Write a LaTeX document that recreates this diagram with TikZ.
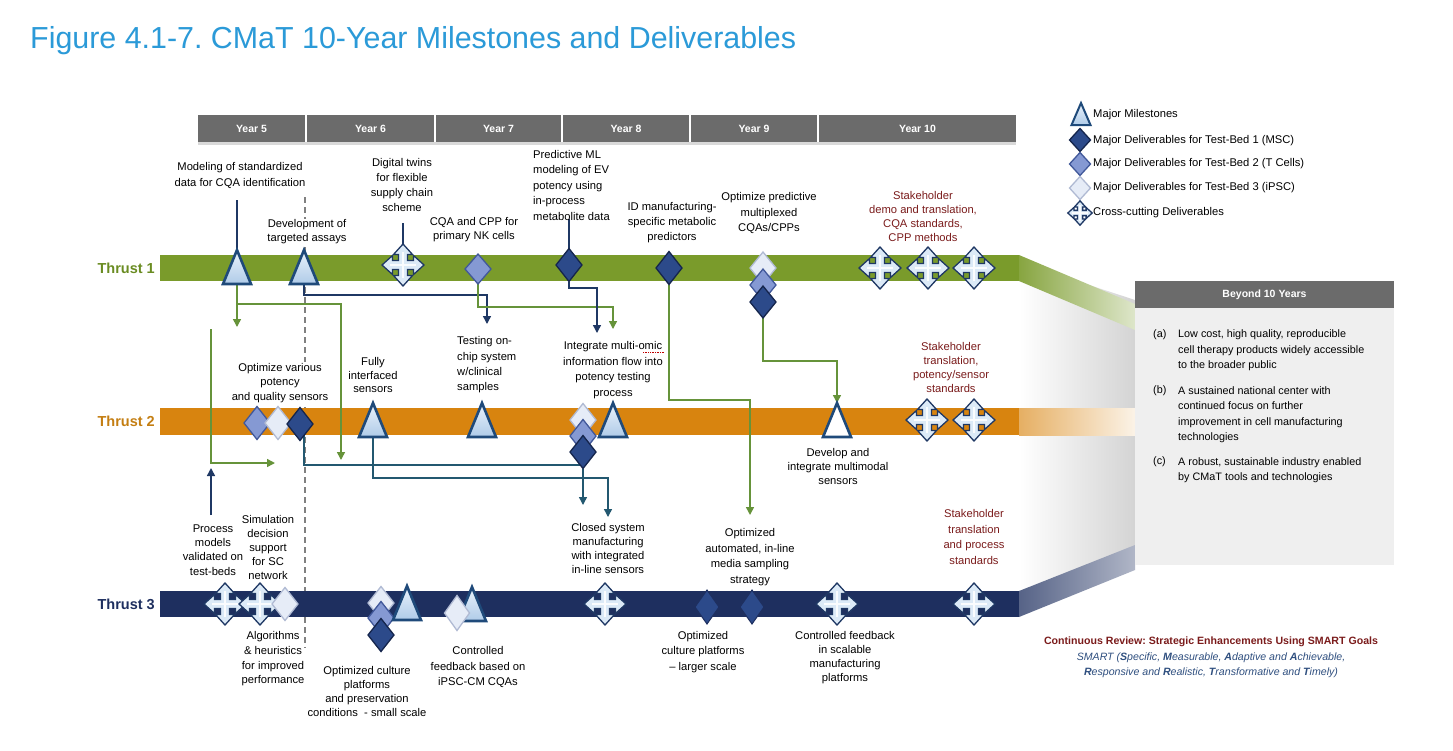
\documentclass[tikz,border=0pt]{standalone}
\usepackage{fontspec}
\setmainfont{Liberation Sans}
\usetikzlibrary{arrows.meta,calc}
\frenchspacing
\pgfdeclarelayer{bg}
\pgfdeclarelayer{conn}
\pgfsetlayers{bg,conn,main}
\definecolor{titleblue}{HTML}{2B9AD8}
\definecolor{hdrgray}{HTML}{6B6B6B}
\definecolor{boxgray}{HTML}{EFEFEF}
\definecolor{tgreen}{HTML}{7A9B2B}
\definecolor{torange}{HTML}{D8840F}
\definecolor{tnavy}{HTML}{1E2F5F}
\definecolor{labgreen}{HTML}{6A8C22}
\definecolor{laborange}{HTML}{C47E12}
\definecolor{labnavy}{HTML}{1E2F5F}
\definecolor{dred}{HTML}{7B1C1C}
\definecolor{msD}{HTML}{1F4A7A}
\definecolor{msTop}{HTML}{EAF2FB}
\definecolor{msBot}{HTML}{AFCBE8}
\definecolor{dOneF}{HTML}{2C4A8A}
\definecolor{dOneD}{HTML}{15254C}
\definecolor{dTwoF}{HTML}{8599D3}
\definecolor{dTwoD}{HTML}{41589A}
\definecolor{dThrF}{HTML}{E6ECF7}
\definecolor{dThrD}{HTML}{B0BAD3}
\definecolor{crossF}{HTML}{DCEAF7}
\definecolor{crossD}{HTML}{1F3864}
\definecolor{cnavy}{HTML}{1F3864}
\definecolor{cteal}{HTML}{235870}
\definecolor{cgreen}{HTML}{66933A}
\definecolor{smartblue}{HTML}{2F4F7F}

\newcommand\milestone[4][msshade]{%
  \node[anch, minimum width=28pt, minimum height=34pt] (#2) at (#3,#4) {};
  \draw[msline, #1] (#2.north) -- (#2.south east) -- (#2.south west) -- cycle;}
\newcommand\deliv[5][]{%
  \node[anch, minimum width=26pt, minimum height=33pt, #1] (#3) at (#4,#5) {};
  \draw[#2] (#3.north) -- (#3.east) -- (#3.south) -- (#3.west) -- cycle;}
\newcommand\xcross[4][1]{%
  \node[anch, minimum size=42pt] (#2) at (#3,#4) {};
  \draw[xstyle, shift={(#2.center)}, scale=#1] (21,0) -- (10.5,9.5) -- (10.5,4.5) -- (4.5,4.5) -- (4.5,10.5) -- (9.5,10.5) -- (0,21) -- (-9.5,10.5) -- (-4.5,10.5) -- (-4.5,4.5) -- (-10.5,4.5) -- (-10.5,9.5) -- (-21,0) -- (-10.5,-9.5) -- (-10.5,-4.5) -- (-4.5,-4.5) -- (-4.5,-10.5) -- (-9.5,-10.5) -- (0,-21) -- (9.5,-10.5) -- (4.5,-10.5) -- (4.5,-4.5) -- (10.5,-4.5) -- (10.5,-9.5) -- cycle;
  \draw[white!85!crossF, line width=1.6pt, shift={(#2.center)}, scale=#1] (-13,0) -- (13,0) (0,-13) -- (0,13);}

\begin{document}
\begin{tikzpicture}[x=1pt,y=-1pt,
  anch/.style={rectangle, inner sep=0pt, outer sep=0pt, draw=none, fill=none},
  msline/.style={draw=msD, line width=2.6pt, line join=miter},
  msshade/.style={top color=msTop, bottom color=msBot},
  dOne/.style={fill=dOneF, draw=dOneD, line width=1.3pt, line join=miter},
  dOneB/.style={fill=dOneF, draw=tnavy, line width=1pt, line join=miter},
  dTwo/.style={fill=dTwoF, draw=dTwoD, line width=1.3pt, line join=miter},
  dThr/.style={fill=dThrF, draw=dThrD, line width=1.3pt, line join=miter},
  xstyle/.style={fill=crossF, draw=crossD, line width=1.3pt, line join=miter},
  lbl/.style={align=center, inner sep=0pt, font=\fontsize{11.2}{15}\selectfont},
  ld/.style={font=\fontsize{11.2}{#1}\selectfont},
  rlbl/.style={lbl, text=dred},
  yearcell/.style={fill=hdrgray, text=white, inner sep=0pt, minimum height=27pt, font=\bfseries\fontsize{10.5}{12}\selectfont},
  thr/.style={anchor=east, inner sep=0pt, font=\bfseries\fontsize{14.5}{16}\selectfont},
  gline/.style={draw=cgreen, line width=1.5pt},
  nline/.style={draw=cnavy, line width=1.5pt},
  tline/.style={draw=cteal, line width=1.5pt},
  arr/.style={-{Triangle[width=8pt,length=8pt]}}
]
\useasboundingbox (0,0) rectangle (1453,750);

\begin{pgfonlayer}{bg}
\fill[white] (0,0) rectangle (1453,750);
% funnel to the Beyond box
\shade[left color=white, right color=black!17] (1019,262) -- (1135,300) -- (1135,565) -- (1019,600) -- cycle;
\shade[left color=tgreen!90, right color=tgreen!25] (1019,255) -- (1135,304) -- (1135,330) -- (1019,281) -- cycle;
\shade[left color=torange!65, right color=torange!10] (1019,408) rectangle (1135,435);
\shade[left color=tnavy!75, right color=tnavy!35] (1019,591) -- (1135,545) -- (1135,570) -- (1019,617) -- cycle;
% header shadow
\fill[black!15] (198,142) rectangle (1016,145);
% dashed divider
\coordinate (dashTop) at (305,197);
\coordinate (dashBot) at (305,648);
\draw[black!50, line width=1.4pt, dash pattern=on 6pt off 4pt] (dashTop) -- (dashBot);
% thrust bars
\fill[tgreen] (160,255) rectangle (1019,281);
\fill[torange] (160,408) rectangle (1019,435);
\fill[tnavy] (160,591) rectangle (1019,617);
\end{pgfonlayer}

% title
\node[anchor=base west, inner sep=0pt, text=titleblue, font=\fontsize{30.4}{32}\selectfont] (title) at (30,48) {Figure 4.1-7. CMaT 10-Year Milestones and Deliverables};

% year header
\node[yearcell, minimum width=107pt] (y5) at (251.5,128.5) {Year 5};
\node[yearcell, minimum width=127pt] (y6) at (370.5,128.5) {Year 6};
\node[yearcell, minimum width=125pt] (y7) at (498.5,128.5) {Year 7};
\node[yearcell, minimum width=126pt] (y8) at (626,128.5) {Year 8};
\node[yearcell, minimum width=126pt] (y9) at (754,128.5) {Year 9};
\node[yearcell, minimum width=197pt] (y10) at (917.5,128.5) {Year 10};

% thrust labels
\node[thr, text=labgreen] (th1) at (155,268) {Thrust 1};
\node[thr, text=laborange] (th2) at (155,421) {Thrust 2};
\node[thr, text=labnavy] (th3) at (155,604) {Thrust 3};

% ---------- Thrust 1 shapes
\milestone{t1a}{237}{267}
\milestone{t1b}{304}{267}
\xcross{t1x1}{403}{265}
\deliv[minimum height=30pt]{dTwo}{t1d1}{478}{269}
\deliv{dOne}{t1d2}{569}{265}
\deliv{dOne}{t1d3}{669}{268}
\deliv[minimum height=32pt]{dThr}{t1s3}{763}{268}
\deliv[minimum height=32pt]{dTwo}{t1s2}{763}{285}
\deliv[minimum height=32pt]{dOne}{t1s1}{763}{302}
\xcross{t1x2}{880}{268}
\xcross{t1x3}{928}{268}
\xcross{t1x4}{974}{268}

% ---------- Thrust 2 shapes
\deliv{dTwo}{t2d1}{257}{423}
\deliv{dThr}{t2d2}{278}{423}
\deliv{dOne}{t2d3}{300}{424}
\milestone{t2a}{373}{420}
\milestone{t2b}{482}{420}
\deliv{dThr}{t2s3}{583}{420}
\deliv{dTwo}{t2s2}{583}{436}
\deliv{dOne}{t2s1}{583}{452}
\milestone{t2c}{613}{420}
\milestone[fill=white]{t2d}{837}{420}
\xcross{t2x1}{927}{420}
\xcross{t2x2}{974}{420}

% ---------- Thrust 3 shapes
\xcross{t3x1}{225}{604}
\xcross{t3x2}{260}{604}
\deliv{dThr}{t3d1}{285}{604}
\deliv{dThr}{t3s3}{381}{603}
\deliv{dTwo}{t3s2}{381}{618}
\deliv{dOne}{t3s1}{381}{635}
\milestone{t3a}{407}{603}
\milestone{t3b}{472}{604}
\deliv[minimum width=25pt, minimum height=35pt]{dThr}{t3d2}{457}{613}
\xcross{t3x3}{605}{604}
\deliv[minimum width=24pt, minimum height=34pt]{dOneB}{t3d3}{707}{607}
\deliv[minimum width=24pt, minimum height=34pt]{dOneB}{t3d4}{752}{607}
\xcross{t3x4}{837}{604}
\xcross{t3x5}{974}{604}

% ---------- connectors
\coordinate (cMod) at (237,200);
\coordinate (cDtw) at (403,223);
\coordinate (cMl) at (569,219);
\coordinate (gA) at (237,327);
\coordinate (gB0) at (237,304);
\coordinate (gB) at (341,460);
\coordinate (nA) at (487,324);
\coordinate (gC) at (613,329);
\coordinate (nB) at (597,333);
\coordinate (gD) at (750,515);
\coordinate (gE0) at (211,329);
\coordinate (gE) at (275,463);
\coordinate (nC0) at (211,515);
\coordinate (nC) at (211,468);
\coordinate (tE) at (583,465);
\coordinate (tF) at (583,505);
\coordinate (tG) at (608,517);
\begin{pgfonlayer}{conn}
\draw[nline] (cMod) -- (t1a.north);
\draw[nline] (cDtw) -- (t1x1.north);
\draw[nline] (cMl) -- (t1d2.north);
\draw[gline, arr] (t1a.south) -- (gA);
\draw[gline, arr] (gB0) -| (gB);
\draw[nline, arr] (t1b.south) -- ++(0,11) -| (nA);
\draw[gline, arr] (t1d1.south) -- ++(0,23) -| (gC);
\draw[nline, arr] (t1d2.south) -- ++(0,6.5) -| (nB);
\draw[gline, arr] (t1d3.south) -- ++(0,115.5) -| (gD);
\draw[gline, arr] (t1s1.south) -- ++(0,43) -| (t2d.north);
\draw[gline, arr] (gE0) |- (gE);
\draw[nline, arr] (nC0) -- (nC);
\draw[tline] ([xshift=4pt]t2d3.center) |- (tE);
\draw[tline, arr] (t2s1.south) -- (tF);
\draw[tline, arr] (t2a.south) -- ++(0,41) -| (tG);
\end{pgfonlayer}

% ---------- Thrust 1 texts
\node[lbl, ld=16] (modtxt) at (240,175) {Modeling of standardized\\data for CQA identification};
\node[lbl, ld=15.3] (dtwtxt) at (402,185) {Digital twins\\for flexible\\supply chain\\scheme};
\node[lbl, ld=14, fill=white, inner sep=1pt] (devtxt) at (307,232) {Development of\\targeted assays};
\node[lbl, ld=14] (cqatxt) at (474,230) {CQA and CPP for\\primary NK cells};
\node[lbl, ld=15.5, align=left, anchor=west] (mltxt) at (533,185) {Predictive ML\\modeling of EV\\potency using\\in-process\\metabolite data};
\node[lbl, ld=15] (idtxt) at (672,223) {ID manufacturing-\\specific metabolic\\predictors};
\node[lbl, ld=15.5] (opttxt) at (769,213) {Optimize predictive\\multiplexed\\CQAs/CPPs};
\node[rlbl, ld=14] (sk1txt) at (923,216) {Stakeholder\\demo and translation,\\CQA standards,\\CPP methods};

% ---------- Thrust 2 texts
\node[lbl, ld=14.5, fill=white, inner sep=1pt] (ovtxt) at (280,383) {Optimize various\\potency\\and quality sensors};
\node[lbl, ld=13.5] (fitxt) at (373,375) {Fully\\interfaced\\sensors};
\node[lbl, ld=15.3, align=left, anchor=west] (toctxt) at (457,365) {Testing on-\\chip system\\w/clinical\\samples};
\node[lbl, ld=15.5] (imtxt) at (613,370) {Integrate multi-omic\\information flow into\\potency testing\\process};
\node[lbl, ld=14] (dimtxt) at (838,466) {Develop and\\integrate multimodal\\sensors};
\node[rlbl, ld=14] (sk2txt) at (951,367) {Stakeholder\\translation,\\potency/sensor\\standards};
\draw[red!75!black, densely dotted, line width=0.7pt] (643,352) -- (664,352);

% ---------- Thrust 3 texts
\node[lbl, ld=14.3] (pmtxt) at (213,550) {Process\\models\\validated on\\test-beds};
\node[lbl, ld=14] (simtxt) at (268,547) {Simulation\\decision\\support\\for SC\\network};
\node[lbl, ld=14.7] (algtxt) at (273,659) {Algorithms\\\& heuristics\\for improved\\performance};
\node[lbl, ld=14] (ocptxt) at (367,691) {Optimized culture\\platforms\\and preservation\\conditions~~- small scale};
\node[lbl, ld=15.5] (cftxt) at (478,667) {Controlled\\feedback based on\\iPSC-CM CQAs};
\node[lbl, ld=14] (cstxt) at (608,548) {Closed system\\manufacturing\\with integrated\\in-line sensors};
\node[lbl, ld=15.7] (oatxt) at (750,557) {Optimized\\automated, in-line\\media sampling\\strategy};
\node[lbl, ld=15.5] (olstxt) at (703,652) {Optimized\\culture platforms\\– larger scale};
\node[lbl, ld=14] (cfstxt) at (845,658) {Controlled feedback\\in scalable\\manufacturing\\platforms};
\node[rlbl, ld=15.5] (sk3txt) at (974,537) {Stakeholder\\translation\\and process\\standards};

% ---------- legend
\node[anch, minimum width=19pt, minimum height=22pt] (lgms) at (1081,114) {};
\draw[msline, line width=2pt, msshade] (lgms.north) -- (lgms.south east) -- (lgms.south west) -- cycle;
\deliv[minimum width=21pt, minimum height=23pt]{dOne}{lgd1}{1080}{140}
\deliv[minimum width=21pt, minimum height=23pt]{dTwo}{lgd2}{1080}{164}
\deliv[minimum width=21pt, minimum height=23pt]{dThr}{lgd3}{1080}{188}
\xcross[0.58]{lgx}{1080}{213}
\node[lbl, anchor=west] (lgt1) at (1093,115) {Major Milestones};
\node[lbl, anchor=west] (lgt2) at (1093,141) {Major Deliverables for Test-Bed 1 (MSC)};
\node[lbl, anchor=west] (lgt3) at (1093,164) {Major Deliverables for Test-Bed 2 (T Cells)};
\node[lbl, anchor=west] (lgt4) at (1093,188) {Major Deliverables for Test-Bed 3 (iPSC)};
\node[lbl, anchor=west] (lgt5) at (1093,213) {Cross-cutting Deliverables};

% ---------- Beyond 10 years box
\node[anch, fill=boxgray, minimum width=259pt, minimum height=284pt, anchor=north] (bbox) at (1264.5,281) {};
\node[anch, fill=hdrgray, minimum width=259pt, minimum height=27pt, text=white, font=\bfseries\fontsize{10.5}{12}\selectfont] (bhdr) at (1264.5,294.5) {Beyond 10 Years};
\node[anchor=west, inner sep=0pt, font=\fontsize{10.8}{15.5}\selectfont] (ia) at (1153,335) {(a)};
\node[anchor=west, inner sep=0pt, align=left, font=\fontsize{10.8}{15.5}\selectfont] (ta) at (1178,350.5) {Low cost, high quality, reproducible\\cell therapy products widely accessible\\to the broader public};
\node[anchor=west, inner sep=0pt, font=\fontsize{10.8}{15.5}\selectfont] (ib) at (1153,391) {(b)};
\node[anchor=west, inner sep=0pt, align=left, font=\fontsize{10.8}{15.5}\selectfont] (tb) at (1178,414.5) {A sustained national center with\\continued focus on further\\improvement in cell manufacturing\\technologies};
\node[anchor=west, inner sep=0pt, font=\fontsize{10.8}{15.5}\selectfont] (ic) at (1153,462) {(c)};
\node[anchor=west, inner sep=0pt, align=left, font=\fontsize{10.8}{15.5}\selectfont] (tc) at (1178,470) {A robust, sustainable industry enabled\\by CMaT tools and technologies};

% ---------- continuous review
\node[inner sep=0pt, text=dred, font=\bfseries\fontsize{10.6}{13}\selectfont] (cr1) at (1211,642) {Continuous Review: Strategic Enhancements Using SMART Goals};
\node[inner sep=0pt, align=center, text=smartblue, font=\itshape\fontsize{10.6}{15}\selectfont] (cr2) at (1211,665) {SMART (\textbf{S}pecific, \textbf{M}easurable, \textbf{A}daptive and \textbf{A}chievable,\\\textbf{R}esponsive and \textbf{R}ealistic, \textbf{T}ransformative and \textbf{T}imely)};
\end{tikzpicture}
\end{document}
